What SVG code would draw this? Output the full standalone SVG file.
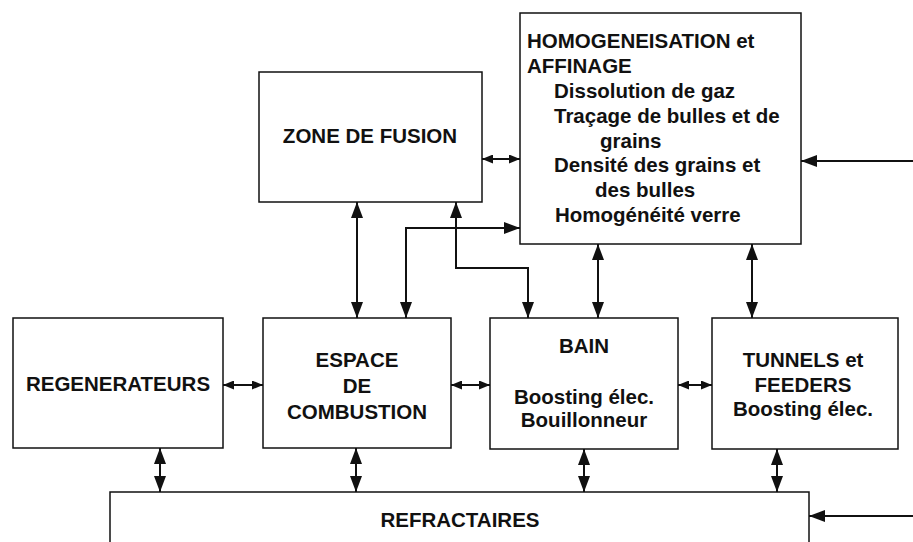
<svg xmlns="http://www.w3.org/2000/svg" width="913" height="542" viewBox="0 0 913 542">
<style>
.box{fill:#fff;stroke:#111;stroke-width:1.5}
.t{font-family:"Liberation Sans",Arial,Helvetica,sans-serif;font-weight:bold;font-size:20.5px;fill:#111}
.m{text-anchor:middle}
.c{fill:none;stroke:#111;stroke-width:2}
</style>
<defs>
<marker id="a" markerUnits="userSpaceOnUse" markerWidth="16" markerHeight="12" refX="16" refY="6" orient="auto-start-reverse"><path d="M0,0 L16,6 L0,12 z" fill="#111"/></marker>
<marker id="s" markerUnits="userSpaceOnUse" markerWidth="11" markerHeight="9" refX="11" refY="4.5" orient="auto-start-reverse"><path d="M0,0 L11,4.5 L0,9 z" fill="#111"/></marker>
</defs>
<rect width="913" height="542" fill="#fff"/>
<g id="refractaires">
<rect class="box" x="110" y="492" width="699" height="70"/>
<text class="t m" x="460" y="527">REFRACTAIRES</text>
</g>
<g id="zone-fusion">
<rect class="box" x="259" y="72" width="223" height="130"/>
<text class="t m" x="370" y="143">ZONE DE FUSION</text>
</g>
<g id="homogeneisation">
<rect class="box" x="520" y="13" width="281" height="231"/>
<text class="t" x="527" y="48">HOMOGENEISATION et</text>
<text class="t" x="527" y="73">AFFINAGE</text>
<text class="t" x="554" y="98">Dissolution de gaz</text>
<text class="t" x="554" y="123">Traçage de bulles et de</text>
<text class="t" x="600" y="148">grains</text>
<text class="t" x="554" y="172">Densité des grains et</text>
<text class="t" x="595" y="197">des bulles</text>
<text class="t" x="555" y="222">Homogénéité verre</text>
</g>
<g id="regenerateurs">
<rect class="box" x="13" y="318" width="210" height="130"/>
<text class="t m" x="118" y="391">REGENERATEURS</text>
</g>
<g id="espace-combustion">
<rect class="box" x="263" y="318" width="188" height="130"/>
<text class="t m" x="357" y="367">ESPACE</text>
<text class="t m" x="357" y="393">DE</text>
<text class="t m" x="357" y="419">COMBUSTION</text>
</g>
<g id="bain">
<rect class="box" x="490" y="318" width="188" height="131"/>
<text class="t m" x="584" y="353">BAIN</text>
<text class="t m" x="584" y="404">Boosting élec.</text>
<text class="t m" x="584" y="427">Bouillonneur</text>
</g>
<g id="tunnels-feeders">
<rect class="box" x="712" y="318" width="186" height="131"/>
<text class="t m" x="803" y="367">TUNNELS et</text>
<text class="t m" x="803" y="392">FEEDERS</text>
<text class="t m" x="803" y="416">Boosting élec.</text>
</g>
<g id="connectors">
<line class="c" x1="482" y1="159" x2="520" y2="159" marker-start="url(#s)" marker-end="url(#s)"/>
<line class="c" x1="357" y1="202" x2="357" y2="318" marker-start="url(#a)" marker-end="url(#a)"/>
<path class="c" d="M456,202 V268 H528 V318" marker-start="url(#a)" marker-end="url(#a)"/>
<path class="c" d="M406,318 V228 H520" marker-start="url(#a)" marker-end="url(#a)"/>
<line class="c" x1="598" y1="244" x2="598" y2="318" marker-start="url(#a)" marker-end="url(#a)"/>
<line class="c" x1="752" y1="244" x2="752" y2="318" marker-start="url(#a)" marker-end="url(#a)"/>
<line class="c" x1="913" y1="161" x2="801" y2="161" marker-end="url(#a)"/>
<line class="c" x1="223" y1="385" x2="263" y2="385" marker-start="url(#s)" marker-end="url(#s)"/>
<line class="c" x1="451" y1="385" x2="490" y2="385" marker-start="url(#s)" marker-end="url(#s)"/>
<line class="c" x1="678" y1="385" x2="712" y2="385" marker-start="url(#s)" marker-end="url(#s)"/>
<line class="c" x1="160" y1="448" x2="160" y2="492" marker-start="url(#a)" marker-end="url(#a)"/>
<line class="c" x1="356" y1="448" x2="356" y2="492" marker-start="url(#a)" marker-end="url(#a)"/>
<line class="c" x1="584" y1="449" x2="584" y2="492" marker-start="url(#a)" marker-end="url(#a)"/>
<line class="c" x1="777" y1="449" x2="777" y2="492" marker-start="url(#a)" marker-end="url(#a)"/>
<line class="c" x1="913" y1="516" x2="809" y2="516" marker-end="url(#a)"/>
</g>
</svg>
